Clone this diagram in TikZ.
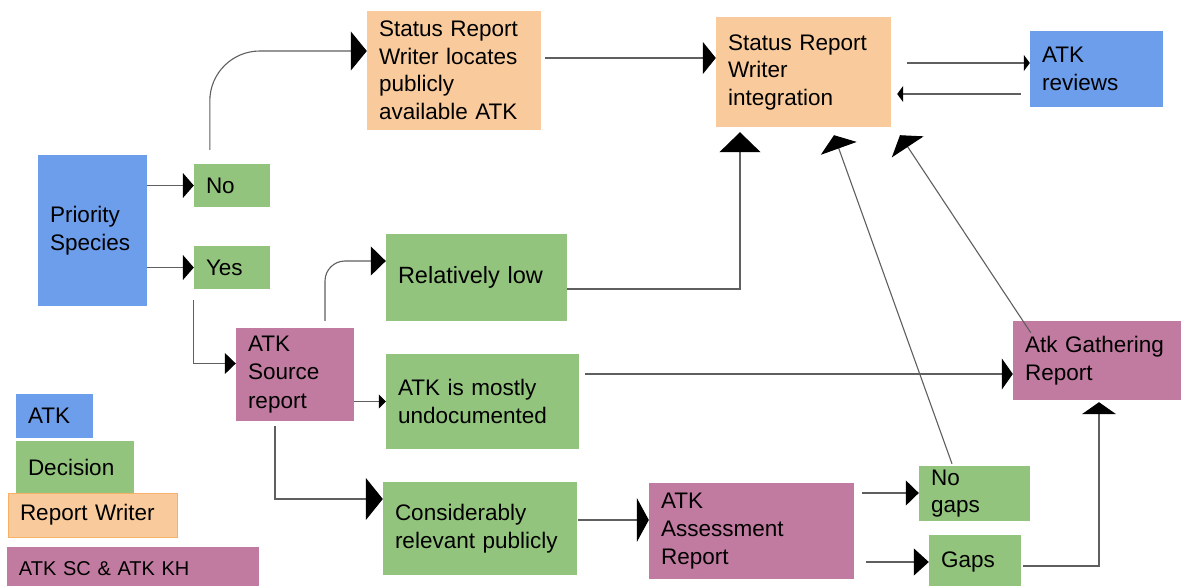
\documentclass[tikz,border=0pt]{standalone}
\usepackage{fontspec}
\setmainfont{Liberation Sans}
\usetikzlibrary{arrows.meta}
\definecolor{cblue}{HTML}{6D9EEB}
\definecolor{cgreen}{HTML}{93C47D}
\definecolor{corange}{HTML}{F9CB9C}
\definecolor{cpink}{HTML}{C27BA0}
\definecolor{cline}{HTML}{5F5F5F}
\definecolor{cborder}{HTML}{F6B26B}
\begin{document}
\begin{tikzpicture}[x=1pt,y=-1pt,
  box/.style={inner xsep=12pt, inner ysep=0pt, align=left, anchor=center, font=\fontsize{22.5}{27.5}\selectfont},
  conn/.style={draw=cline, line width=1.1pt},
  tp/.style 2 args={arrows={-{Triangle[length=#1,width=#2,color=black]}}}]
\useasboundingbox (0,0) rectangle (1181,586);
\fill[white] (0,0) rectangle (1181,586);

% main nodes
\node[box, fill=cblue, minimum width=109pt, minimum height=151pt, text width=85pt] (ps) at (92.5,230.5) {Priority\\Species};
\node[box, fill=cgreen, minimum width=76pt, minimum height=43pt, text width=52pt] (no) at (232,185.5) {No};
\node[box, fill=cgreen, minimum width=76pt, minimum height=43pt, text width=52pt] (yes) at (232,267.5) {Yes};
\node[box, fill=corange, minimum width=174pt, minimum height=119pt, text width=150pt] (loc) at (454,70.5) {Status Report\\Writer locates\\publicly\\available ATK};
\node[box, fill=corange, minimum width=175pt, minimum height=110pt, text width=151pt] (integ) at (803.5,72) {Status Report\\Writer\\integration};
\node[box, fill=cblue, minimum width=133pt, minimum height=76pt, text width=109pt] (rev) at (1096.5,69) {ATK\\reviews};
\node[box, fill=cgreen, minimum width=181pt, minimum height=87pt, text width=157pt, font=\fontsize{23.5}{28}\selectfont] (low) at (476.5,277.5) {Relatively low};
\node[box, fill=cpink, minimum width=118pt, minimum height=93pt, text width=94pt, font=\fontsize{22.5}{28.5}\selectfont] (src) at (295,374.5) {ATK\\Source\\report};
\node[box, fill=cgreen, minimum width=193pt, minimum height=95pt, text width=169pt] (undoc) at (482.5,401.5) {ATK is mostly\\undocumented};
\node[box, fill=cgreen, minimum width=194pt, minimum height=93pt, text width=170pt] (cons) at (480,528.5) {Considerably\\relevant publicly};
\node[box, fill=cpink, minimum width=205pt, minimum height=96pt, text width=181pt, font=\fontsize{22.5}{28}\selectfont] (assess) at (751.5,531) {ATK\\Assessment\\Report};
\node[box, fill=cpink, minimum width=172pt, minimum height=79pt, text width=148pt] (gath) at (1099,360.5) {Atk Gathering\\Report};
\node[box, fill=cgreen, minimum width=111pt, minimum height=55pt, text width=87pt] (nogaps) at (974.5,493.5) {No\\gaps};
\node[box, fill=cgreen, minimum width=92pt, minimum height=53pt, text width=68pt] (gaps) at (975,561.5) {Gaps};

% legend
\node[box, fill=cblue, minimum width=77pt, minimum height=44pt, text width=53pt] (lg1) at (54.5,416) {ATK};
\node[box, fill=cgreen, minimum width=118pt, minimum height=52pt, text width=94pt] (lg2) at (75,467) {Decision};
\node[box, fill=corange, draw=cborder, line width=1pt, minimum width=169pt, minimum height=44pt, text width=145pt] (lg3) at (92.5,515) {Report Writer};
\node[box, fill=cpink, minimum width=252pt, minimum height=44pt, text width=228pt, font=\fontsize{20}{24}\selectfont] (lg4) at (133,569) {ATK SC \& ATK KH};

% connectors
\draw[conn, tp={11pt}{25pt}] (ps.east |- no.west) -- (no.west);
\draw[conn, tp={11pt}{25pt}] (ps.east |- yes.west) -- (yes.west);
\draw[conn, tp={16pt}{39pt}, rounded corners=50pt] ([xshift=16pt,yshift=14pt]no.north west) |- ([yshift=19.5pt]loc.west);
\draw[conn, tp={11pt}{21pt}] ([yshift=-11pt]yes.south west) |- ([yshift=11pt]src.west);
\draw[conn, tp={15pt}{29pt}, rounded corners=20pt] ([xshift=30pt,yshift=7pt]src.north) |- ([yshift=16.5pt]low.west);
\draw[conn, tp={7pt}{14pt}] ([yshift=-27pt]src.east) -- ([yshift=-27pt]src.east -| undoc.west);
\draw[conn, tp={17pt}{42pt}] ([xshift=-20pt,yshift=-5pt]src.south) |- ([yshift=29.5pt]cons.west);
\draw[conn, tp={13pt}{32pt}] ([xshift=4pt,yshift=12.5pt]loc.east) -- ([yshift=14pt]integ.west);
\draw[conn, tp={20pt}{41pt}] ([yshift=-11.5pt]low.east) -| ([xshift=-63.5pt,yshift=-5pt]integ.south);
\draw[conn, tp={6pt}{16pt}] ([xshift=16pt,yshift=9pt]integ.east) -- ([yshift=6pt]rev.west);
\draw[conn, tp={6pt}{16pt}] ([xshift=-9pt,yshift=-25pt]rev.west) -- ([xshift=6pt,yshift=-22pt]integ.east);
\draw[conn, tp={14pt}{38pt}] ([xshift=-22.5pt,yshift=2pt]nogaps.north) -- ([xshift=30.5pt,yshift=-8pt]integ.south);
\draw[conn, tp={14pt}{38pt}] ([xshift=18pt,yshift=-12pt]gath.north west) -- ([xshift=96.5pt,yshift=-8pt]integ.south);
\draw[conn, tp={11pt}{31pt}] ([xshift=6pt,yshift=27.5pt]undoc.east) -- ([yshift=-13.5pt]gath.west);
\draw[conn, tp={12pt}{44pt}] ([xshift=1pt,yshift=8.5pt]cons.east) -- ([yshift=11pt]assess.west);
\draw[conn, tp={13pt}{25pt}] ([xshift=8pt,yshift=38pt]assess.east) -- ([yshift=0.5pt]nogaps.west);
\draw[conn, tp={15pt}{27pt}] ([xshift=12pt,yshift=-31pt]assess.east) -- ([yshift=-0.5pt]gaps.west);
\draw[conn, tp={12pt}{34pt}] ([xshift=2pt,yshift=-4.5pt]gaps.east) -| ([yshift=-2pt]gath.south);
\end{tikzpicture}
\end{document}
